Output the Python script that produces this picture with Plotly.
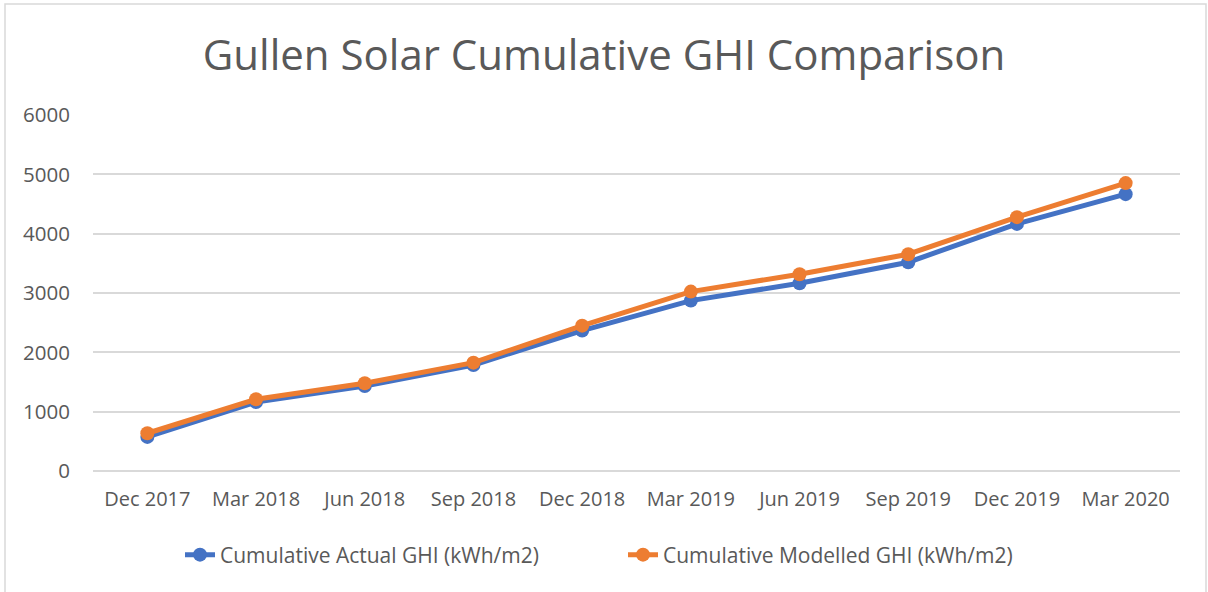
import plotly.graph_objects as go

categories = ["Dec 2017", "Mar 2018", "Jun 2018", "Sep 2018", "Dec 2018",
              "Mar 2019", "Jun 2019", "Sep 2019", "Dec 2019", "Mar 2020"]
actual = [575, 1163, 1433, 1787, 2366, 2872, 3165, 3519, 4165, 4666]
modelled = [636, 1209, 1479, 1826, 2450, 3024, 3317, 3654, 4278, 4852]
y_ticks = [0, 1000, 2000, 3000, 4000, 5000, 6000]

W, H = 1208, 592
L, R, T, B = 93, 28, 115, 121
pw, ph = W - L - R, H - T - B

fig = go.Figure()
fig.add_trace(go.Scatter(x=categories, y=actual, mode="lines+markers",
                         name="Cumulative Actual GHI (kWh/m2)",
                         line=dict(color="#4472C4", width=5),
                         marker=dict(color="#4472C4", size=14)))
fig.add_trace(go.Scatter(x=categories, y=modelled, mode="lines+markers",
                         name="Cumulative Modelled GHI (kWh/m2)",
                         line=dict(color="#ED7D31", width=5),
                         marker=dict(color="#ED7D31", size=14)))

fig.update_layout(
    width=W, height=H,
    margin=dict(l=L, r=R, t=T, b=B),
    paper_bgcolor="white", plot_bgcolor="white",
    font=dict(family="Open Sans, sans-serif", color="#595959", size=20),
    title=dict(text="Gullen Solar Cumulative GHI Comparison",
               x=0.5, xanchor="center", y=1 - 55 / H, yanchor="middle",
               font=dict(size=42, color="#595959", family="Open Sans, sans-serif")),
    xaxis=dict(type="category", range=[-0.5, 9.5], showgrid=False,
               showline=False, zeroline=False, ticks="",
               ticklabelstandoff=14,
               tickfont=dict(size=20, color="#595959")),
    yaxis=dict(range=[0, 6000], tickvals=y_ticks, showgrid=True,
               gridcolor="#D9D9D9", gridwidth=1.5, zeroline=True,
               zerolinecolor="#D9D9D9", zerolinewidth=1.5, showline=False,
               ticks="", ticklabelstandoff=22,
               tickfont=dict(size=20.5, color="#595959")),
    legend=dict(orientation="h", x=(180 - L) / pw, xanchor="left",
                y=-(555 - 471) / ph, yanchor="middle",
                font=dict(size=21, color="#595959"),
                entrywidth=398, entrywidthmode="pixels",
                tracegroupgap=0),
    showlegend=True,
)

fig.add_shape(type="rect", xref="paper", yref="paper",
              x0=(5 - L) / pw, x1=(W - 2 - L) / pw,
              y0=-(H + 5 - T - ph) / ph, y1=1 + (T - 4) / ph,
              line=dict(color="#D9D9D9", width=1.5), layer="below")

fig.write_html("out.html", config={"displayModeBar": False},
               post_script="document.body.style.margin='0';document.body.style.overflow='hidden';")
